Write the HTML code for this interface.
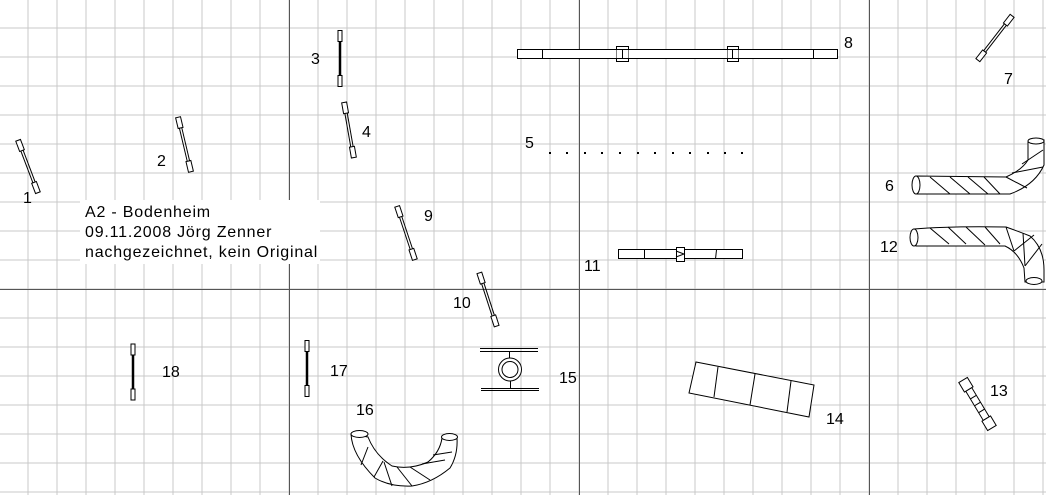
<!DOCTYPE html>
<html><head><meta charset="utf-8"><style>
html,body{margin:0;padding:0;background:#fff}
svg{display:block}
text{font-family:"Liberation Sans",sans-serif;font-size:16px;fill:#000}
.t{letter-spacing:0.8px}
</style></head><body>
<svg width="1046" height="495" viewBox="0 0 1046 495" xmlns="http://www.w3.org/2000/svg">
<defs>
<pattern id="g" width="29" height="29" patternUnits="userSpaceOnUse" x="-0.5" y="-0.5">
<path d="M28.5 0V29M0 28.5H29" stroke="#c8c8c8" stroke-width="1" fill="none"/>
</pattern>
</defs>
<rect width="1046" height="495" fill="#fff"/>
<rect width="1046" height="495" fill="url(#g)"/>
<g stroke="#555" stroke-width="1">
<line x1="289.5" y1="0" x2="289.5" y2="495"/><line x1="579.5" y1="0" x2="579.5" y2="495"/><line x1="869.5" y1="0" x2="869.5" y2="495"/>
<line x1="0" y1="289.5" x2="1046" y2="289.5"/>
</g>
<rect x="80" y="200" width="240" height="64" fill="#fff"/>
<text class="t" x="85" y="217">A2 - Bodenheim</text>
<text class="t" x="85" y="237">09.11.2008 Jörg Zenner</text>
<text class="t" x="85" y="257">nachgezeichnet, kein Original</text>

<g fill="#fff" stroke="#000" stroke-width="1">
<g transform="translate(28,166.5) rotate(-20.7)"><line x1="-1.2" y1="-17" x2="-1.2" y2="17"/><line x1="1.2" y1="-17" x2="1.2" y2="17"/><rect x="-2.5" y="-28" width="5" height="11"/><rect x="-2.5" y="17" width="5" height="11"/></g>
<g transform="translate(184.5,144.5) rotate(-13.3)"><line x1="-1.2" y1="-17" x2="-1.2" y2="17"/><line x1="1.2" y1="-17" x2="1.2" y2="17"/><rect x="-2.5" y="-28" width="5" height="11"/><rect x="-2.5" y="17" width="5" height="11"/></g>
<g transform="translate(349,130) rotate(-10)"><line x1="-1.2" y1="-17" x2="-1.2" y2="17"/><line x1="1.2" y1="-17" x2="1.2" y2="17"/><rect x="-2.5" y="-28" width="5" height="11"/><rect x="-2.5" y="17" width="5" height="11"/></g>
<g transform="translate(995,38) rotate(37.7)"><line x1="-1.2" y1="-17" x2="-1.2" y2="17"/><line x1="1.2" y1="-17" x2="1.2" y2="17"/><rect x="-2.5" y="-28" width="5" height="11"/><rect x="-2.5" y="17" width="5" height="11"/></g>
<g transform="translate(406,233) rotate(-18.4)"><line x1="-1.2" y1="-17" x2="-1.2" y2="17"/><line x1="1.2" y1="-17" x2="1.2" y2="17"/><rect x="-2.5" y="-28" width="5" height="11"/><rect x="-2.5" y="17" width="5" height="11"/></g>
<g transform="translate(488,299.5) rotate(-18)"><line x1="-1.2" y1="-17" x2="-1.2" y2="17"/><line x1="1.2" y1="-17" x2="1.2" y2="17"/><rect x="-2.5" y="-28" width="5" height="11"/><rect x="-2.5" y="17" width="5" height="11"/></g>
<g transform="translate(977.5,404) rotate(-31)"><rect x="-3.5" y="-17" width="7" height="34"/><line x1="-3.5" y1="-8" x2="3.5" y2="-8"/><line x1="-3.5" y1="0" x2="3.5" y2="0"/><line x1="-3.5" y1="8" x2="3.5" y2="8"/><rect x="-5" y="-28" width="10" height="11"/><rect x="-5" y="17" width="10" height="11"/></g>
<g transform="translate(340,58.5)"><line x1="0" y1="-17" x2="0" y2="17" stroke-width="2.5"/><rect x="-2" y="-28" width="4" height="11"/><rect x="-2" y="17" width="4" height="11"/></g>
<g transform="translate(307,368.5)"><line x1="0" y1="-17" x2="0" y2="17" stroke-width="2.5"/><rect x="-2" y="-28" width="4" height="11"/><rect x="-2" y="17" width="4" height="11"/></g>
<g transform="translate(133,372)"><line x1="0" y1="-17" x2="0" y2="17" stroke-width="2.5"/><rect x="-2" y="-28" width="4" height="11"/><rect x="-2" y="17" width="4" height="11"/></g>

<rect x="517.5" y="49.5" width="320" height="9"/>
<line x1="542.5" y1="49.5" x2="542.5" y2="58.5"/><line x1="813.5" y1="49.5" x2="813.5" y2="58.5"/>
<rect x="616.5" y="46.5" width="12" height="15"/><rect x="616.5" y="49.5" width="12" height="9" stroke="none"/>
<line x1="622.5" y1="49.5" x2="622.5" y2="58.5"/><line x1="616.5" y1="49.5" x2="628.5" y2="49.5"/><line x1="616.5" y1="58.5" x2="628.5" y2="58.5"/>
<rect x="727.5" y="46.5" width="11" height="15"/><rect x="727.5" y="49.5" width="11" height="9" stroke="none"/>
<line x1="732.5" y1="49.5" x2="732.5" y2="58.5"/><line x1="727.5" y1="49.5" x2="738.5" y2="49.5"/><line x1="727.5" y1="58.5" x2="738.5" y2="58.5"/>

<rect x="618.5" y="249.5" width="124" height="9"/>
<line x1="644.5" y1="249.5" x2="644.5" y2="258.5"/><line x1="716.5" y1="250" x2="715.5" y2="259"/>
<rect x="676.5" y="247.5" width="8" height="14"/>
<polyline points="676,251 684,254 676,257" fill="none"/>

<polygon points="696,362 814,385 809,417 689,393"/>
<line x1="718" y1="367" x2="714" y2="397"/><line x1="755" y1="374" x2="750" y2="405"/><line x1="791" y1="381" x2="787" y2="412"/>

<line x1="480" y1="348.5" x2="538" y2="348.5"/><line x1="480" y1="351.5" x2="538" y2="351.5"/>
<line x1="481" y1="388.5" x2="539" y2="388.5"/><line x1="481" y1="390.5" x2="539" y2="390.5"/>
<line x1="509.5" y1="351" x2="509.5" y2="358"/><line x1="510.5" y1="381" x2="510.5" y2="389"/>
<circle cx="510" cy="369.5" r="11.5"/><circle cx="510" cy="369.5" r="8"/>

<path d="M916 176 L1006 177 Q1022 170 1028 160 L1028 142 L1044 140 L1044 165 Q1035 185 1010 194 L916 194 Z"/>
<ellipse cx="916" cy="185" rx="4" ry="9"/>
<ellipse cx="1036" cy="141" rx="8" ry="3"/>
<g fill="none"><line x1="930" y1="177" x2="950" y2="194"/><line x1="950" y1="177" x2="970" y2="194"/><line x1="968" y1="177" x2="988" y2="194"/><line x1="984" y1="177" x2="1000" y2="194"/><line x1="1006" y1="177" x2="1027" y2="188"/><line x1="1012" y1="173" x2="1043" y2="167"/><line x1="1022" y1="164" x2="1043" y2="150"/></g>

<path d="M914 229 Q950 226 1006 227 Q1020 232 1030 236 Q1044 248 1044 270 L1044 282 L1025 282 L1024 268 Q1018 252 1005 246 L916 246 Z"/>
<ellipse cx="914" cy="237.5" rx="4" ry="8.5"/>
<ellipse cx="1034" cy="281" rx="8" ry="3.5"/>
<g fill="none"><line x1="930" y1="228" x2="949" y2="244"/><line x1="948" y1="227" x2="966" y2="244"/><line x1="966" y1="227" x2="985" y2="245"/><line x1="985" y1="227" x2="1000" y2="244"/><line x1="1006" y1="227" x2="1014" y2="251"/><line x1="1023" y1="233" x2="1025" y2="266"/><line x1="1025" y1="266" x2="1042" y2="244"/><line x1="1014" y1="251" x2="1034" y2="235"/></g>

<path d="M351 434 Q352 455 375 478 Q390 487 412 486 Q432 483 450 468 Q458 455 457 438 L442 438 Q440 452 428 462 Q410 470 392 466 Q375 455 368 437 Z"/>
<ellipse cx="359.5" cy="434" rx="8.5" ry="3.5"/>
<ellipse cx="449.5" cy="437" rx="8" ry="3.5"/>
<g fill="none"><line x1="368" y1="447" x2="361" y2="465"/><line x1="383" y1="461" x2="374" y2="477"/><line x1="384" y1="462" x2="392" y2="486"/><line x1="397" y1="467" x2="412" y2="486"/><line x1="410" y1="467" x2="430" y2="480"/><line x1="422" y1="464" x2="445" y2="460"/><line x1="433" y1="455" x2="452" y2="452"/></g>
</g>

<g fill="#000">
<rect x="549" y="152" width="2" height="2"/><rect x="566" y="152" width="2" height="2"/><rect x="584" y="152" width="2" height="2"/><rect x="601" y="152" width="2" height="2"/><rect x="619" y="152" width="2" height="2"/><rect x="637" y="152" width="2" height="2"/><rect x="654" y="152" width="2" height="2"/><rect x="672" y="152" width="2" height="2"/><rect x="689" y="152" width="2" height="2"/><rect x="707" y="152" width="2" height="2"/><rect x="724" y="152" width="2" height="2"/><rect x="741" y="152" width="2" height="2"/>
</g>

<text x="23" y="203">1</text>
<text x="157" y="166">2</text>
<text x="311" y="64">3</text>
<text x="362" y="137">4</text>
<text x="525" y="148">5</text>
<text x="885" y="191">6</text>
<text x="1004" y="84">7</text>
<text x="844" y="48">8</text>
<text x="424" y="221">9</text>
<text x="453" y="308">10</text>
<text x="584" y="271">11</text>
<text x="880" y="252">12</text>
<text x="990" y="396">13</text>
<text x="826" y="424">14</text>
<text x="559" y="383">15</text>
<text x="356" y="415">16</text>
<text x="330" y="376">17</text>
<text x="162" y="377">18</text>
</svg>
</body></html>
